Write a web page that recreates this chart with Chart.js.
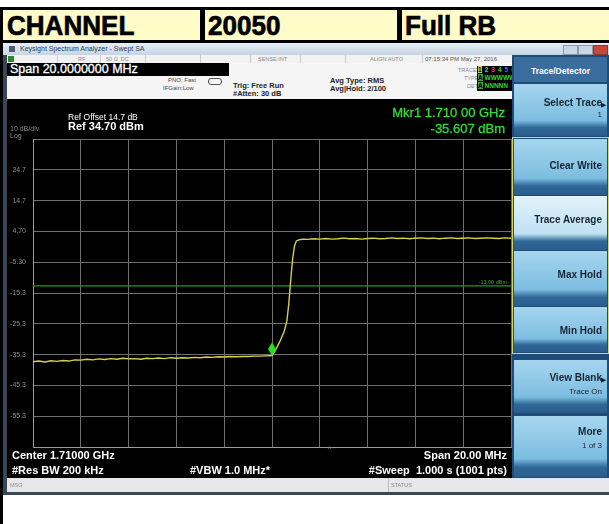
<!DOCTYPE html>
<html>
<head>
<meta charset="utf-8">
<script src="https://cdn.jsdelivr.net/npm/chart.js@4/dist/chart.umd.min.js"></script>
<style>
html,body{margin:0;padding:0;background:#fff;}
body{width:609px;height:524px;position:relative;overflow:hidden;font-family:"Liberation Sans",Arial,sans-serif;}
.a{position:absolute;white-space:nowrap;}
.hdr{font-weight:bold;font-size:28px;line-height:28px;color:#000;transform:scaleX(0.93);transform-origin:left top;-webkit-text-stroke:0.7px #000;}
.sk{position:absolute;left:514px;width:93px;background:linear-gradient(#a6d6ef,#7cbde0 70%,#2f6797 84%,#2a5d8c);}
.sk.sel{background:linear-gradient(#e2f2fa,#bfe2f3 70%,#2f6797 84%,#2a5d8c);}
.skt{position:absolute;right:5px;font-weight:bold;font-size:10px;color:#172436;text-align:right;}
.sks{position:absolute;right:5px;font-size:8px;color:#172436;text-align:right;}
.tiny{font-size:5.5px;color:#8a8a8a;}
.wt{color:#fff;}
</style>
</head>
<body>
<!-- spreadsheet header row -->
<div class="a" style="left:0;top:7px;width:609px;height:3px;background:#000"></div>
<div class="a" style="left:0;top:7px;width:3px;height:517px;background:#000"></div>
<div class="a" style="left:3px;top:10px;width:606px;height:30px;background:#fffcc8"></div>
<div class="a" style="left:200px;top:10px;width:5px;height:30px;background:#000"></div>
<div class="a" style="left:397px;top:10px;width:5px;height:30px;background:#000"></div>
<div class="a" style="left:0;top:40px;width:609px;height:3px;background:#000"></div>
<div class="a hdr" style="left:7px;top:12px">CHANNEL</div>
<div class="a hdr" style="left:208px;top:12px">20050</div>
<div class="a hdr" style="left:405px;top:12px">Full RB</div>

<!-- analyzer window -->
<div class="a" style="left:3px;top:43px;width:606px;height:452px;background:#3a4654"></div>
<div class="a" style="left:3px;top:43px;width:606px;height:12px;background:linear-gradient(#e6eef6,#c6d4e3)"></div>
<div class="a" style="left:9px;top:46px;width:6px;height:6px;background:#4a5a70"></div>
<div class="a" style="left:20px;top:45px;font-size:7px;color:#2c3a55">Keysight Spectrum Analyzer - Swept SA</div>
<div class="a" style="left:563px;top:45px;width:13px;height:8px;background:#c9d6e4;border:1px solid #8a9bb0"></div>
<div class="a" style="left:578px;top:45px;width:13px;height:8px;background:#c9d6e4;border:1px solid #8a9bb0"></div>
<div class="a" style="left:593px;top:45px;width:13px;height:8px;background:#c8483a;border:1px solid #8a3a30"></div>

<!-- status row -->
<div class="a" style="left:7px;top:55px;width:505px;height:8px;background:#f2f2f2"></div>
<div class="a" style="left:8px;top:56px;width:6px;height:6px;background:#2a8a2a"></div>
<div class="a" style="left:57px;top:55px;width:1px;height:8px;background:#ccc"></div>
<div class="a" style="left:100px;top:55px;width:1px;height:8px;background:#ccc"></div>
<div class="a" style="left:145px;top:55px;width:1px;height:8px;background:#ccc"></div>
<div class="a" style="left:200px;top:55px;width:1px;height:8px;background:#ccc"></div>
<div class="a" style="left:250px;top:55px;width:1px;height:8px;background:#ccc"></div>
<div class="a" style="left:300px;top:55px;width:1px;height:8px;background:#ccc"></div>
<div class="a" style="left:345px;top:55px;width:1px;height:8px;background:#ccc"></div>
<div class="a" style="left:422px;top:55px;width:1px;height:8px;background:#ccc"></div>
<div class="a tiny" style="left:78px;top:56px">RF</div>
<div class="a tiny" style="left:106px;top:56px">50 Ω&nbsp;&nbsp;DC</div>
<div class="a tiny" style="left:258px;top:56px">SENSE:INT</div>
<div class="a tiny" style="left:370px;top:56px">ALIGN AUTO</div>
<div class="a" style="left:425px;top:55.5px;font-size:6px;color:#555">07:15:34 PM May 27, 2016</div>

<!-- info panel -->
<div class="a" style="left:7px;top:63px;width:505px;height:36px;background:#f5f5f5"></div>
<div class="a" style="left:7px;top:63px;width:222px;height:13px;background:#000"></div>
<div class="a wt" style="left:10px;top:63px;font-size:12.5px;line-height:13px;-webkit-text-stroke:0.3px #fff">Span 20.0000000 MHz</div>
<div class="a" style="left:168px;top:77px;font-size:6px;color:#444">PNO: Fast</div>
<div class="a" style="left:163px;top:85px;font-size:6px;color:#444">IFGain:Low</div>
<div class="a" style="left:208px;top:78px;width:12px;height:5px;border:1px solid #555;border-radius:3px"></div>
<div class="a" style="left:233px;top:81px;font-size:7.5px;font-weight:bold;color:#222">Trig: Free Run</div>
<div class="a" style="left:233px;top:89px;font-size:7.5px;font-weight:bold;color:#222">#Atten: 30 dB</div>
<div class="a" style="left:330px;top:76px;font-size:7.5px;font-weight:bold;color:#222">Avg Type: RMS</div>
<div class="a" style="left:330px;top:84px;font-size:7.5px;font-weight:bold;color:#222">Avg|Hold: 2/100</div>
<div class="a tiny" style="left:458px;top:67px">TRACE</div>
<div class="a tiny" style="left:464px;top:75px">TYPE</div>
<div class="a tiny" style="left:467px;top:83px">DET</div>
<div class="a" style="left:477px;top:66px;width:35px;height:25px;background:#000"></div>
<div class="a" style="left:478px;top:66px;font-size:6.5px;font-weight:bold;letter-spacing:0.6px"><span style="background:#c8d040;color:#000">1</span> <span style="color:#2ad0d0">2</span> <span style="color:#d040d0">3</span> <span style="color:#40d040">4</span> <span style="color:#6060ff">5</span> <span style="color:#a050ff">6</span></div>
<div class="a" style="left:478px;top:74px;font-size:6.5px;font-weight:bold;color:#3fd03f"><span style="background:#3fa03f;color:#000">A</span>&nbsp;WWWWW</div>
<div class="a" style="left:478px;top:82px;font-size:6.5px;font-weight:bold;color:#3fd03f"><span style="background:#3fa03f;color:#000">A</span>&nbsp;NNNNN</div>

<!-- black display -->
<div class="a" style="left:7px;top:99px;width:505px;height:379px;background:#000"></div>
<div class="a" style="left:7px;top:99px;width:505px;height:379px"><canvas id="c" width="505" height="379"></canvas></div>
<div class="a wt" style="left:68px;top:112px;font-size:8.5px">Ref Offset 14.7 dB</div>
<div class="a wt" style="left:68px;top:120px;font-size:11px;font-weight:bold">Ref 34.70 dBm</div>
<div class="a" style="left:10px;top:125px;font-size:7px;color:#8a8a8a">10 dB/div</div>
<div class="a" style="left:10px;top:132px;font-size:7px;color:#8a8a8a">Log</div>
<div class="a" style="right:104px;top:105px;font-size:13px;color:#33dd33;-webkit-text-stroke:0.3px #33dd33">Mkr1 1.710 00 GHz</div>
<div class="a" style="right:104px;top:121px;font-size:13px;color:#33dd33;-webkit-text-stroke:0.3px #33dd33">-35.607 dBm</div>
<div class="a wt" style="left:12px;top:449px;font-size:11px;font-weight:bold">Center 1.71000 GHz</div>
<div class="a wt" style="left:12px;top:464px;font-size:11px;font-weight:bold">#Res BW 200 kHz</div>
<div class="a wt" style="left:190px;top:464px;font-size:11px;font-weight:bold">#VBW 1.0 MHz*</div>
<div class="a wt" style="right:102px;top:449px;font-size:11px;font-weight:bold">Span 20.00 MHz</div>
<div class="a wt" style="right:102px;top:464px;font-size:11px;font-weight:bold">#Sweep&nbsp;&nbsp;1.000 s (1001 pts)</div>
<div class="a" style="left:328px;top:445px;font-size:7px;color:#3fae3f">^</div>

<!-- softkey panel -->
<div class="a" style="left:512px;top:55px;width:97px;height:423px;background:#1f4b75"></div>
<div class="a" style="left:514px;top:57px;width:93px;height:25px;background:#3a6c9d"></div>
<div class="a wt" style="left:514px;top:66px;width:93px;text-align:center;font-size:8.5px;font-weight:bold">Trace/Detector</div>
<div class="sk" style="top:84px;height:52px"><div class="skt" style="top:13px">Select Trace</div><div class="a" style="right:1px;top:17px;font-size:7px;color:#172436">&#9654;</div><div class="sks" style="top:26px">1</div></div>
<div class="a" style="left:512px;top:137px;width:95px;height:215px;border:1px solid #d8d860"></div>
<div class="sk" style="top:139px;height:56px"><div class="skt" style="top:21px">Clear Write</div></div>
<div class="sk sel" style="top:196px;height:54px"><div class="skt" style="top:18px">Trace Average</div></div>
<div class="sk" style="top:251px;height:55px"><div class="skt" style="top:18px">Max Hold</div></div>
<div class="sk" style="top:307px;height:45px"><div class="skt" style="top:18px">Min Hold</div></div>
<div class="sk" style="top:360px;height:53px"><div class="skt" style="top:12px">View Blank</div><div class="a" style="right:1px;top:16px;font-size:7px;color:#172436">&#9654;</div><div class="sks" style="top:27px">Trace On</div></div>
<div class="sk" style="top:416px;height:61px"><div class="skt" style="top:10px">More</div><div class="sks" style="top:25px">1 of 3</div></div>

<!-- bottom status bar -->
<div class="a" style="left:7px;top:478px;width:602px;height:14px;background:#e7e7eb"></div>
<div class="a" style="left:388px;top:478px;width:1px;height:14px;background:#bbb"></div>
<div class="a tiny" style="left:10px;top:482px">MSG</div>
<div class="a tiny" style="left:391px;top:482px">STATUS</div>

<script>
// ---- data ----
const traceFreqMHz = [1700.00,1700.25,1700.50,1700.75,1701.00,1701.25,1701.50,1701.75,1702.00,1702.25,1702.50,1702.75,1703.00,1703.25,1703.50,1703.75,1704.00,1704.25,1704.50,1704.75,1705.00,1705.25,1705.50,1705.75,1706.00,1706.25,1706.50,1706.75,1707.00,1707.25,1707.50,1707.75,1708.00,1708.25,1708.50,1708.75,1709.00,1709.25,1709.50,1709.75,1710.00,
 1710.15,1710.33,1710.50,1710.62,1710.70,1710.78,1710.86,1710.94,1711.02,1711.15,1711.30,
 1711.50,1711.75,1712.00,1712.25,1712.50,1712.75,1713.00,1713.25,1713.50,1713.75,1714.00,1714.25,1714.50,1714.75,1715.00,1715.25,1715.50,1715.75,1716.00,1716.25,1716.50,1716.75,1717.00,1717.25,1717.50,1717.75,1718.00,1718.25,1718.50,1718.75,1719.00,1719.25,1719.50,1719.75,1720.00];
const traceLevelDbm = [-37.6,-37.4,-37.7,-37.3,-37.5,-37.2,-37.4,-37.0,-37.1,-36.8,-37.0,-36.7,-36.9,-36.6,-36.8,-36.5,-36.7,-36.6,-36.8,-36.5,-36.6,-36.4,-36.6,-36.3,-36.5,-36.3,-36.4,-36.2,-36.3,-36.1,-36.2,-36.0,-36.1,-35.9,-36.0,-35.9,-35.9,-35.8,-35.8,-35.7,-35.6,
 -33.8,-31.0,-28.0,-24.5,-19.0,-11.5,-4.5,0.0,1.6,2.0,2.2,
 2.1,2.3,2.2,2.4,2.2,2.3,2.5,2.3,2.4,2.2,2.4,2.5,2.3,2.4,2.6,2.4,2.5,2.3,2.5,2.6,2.4,2.5,2.3,2.5,2.6,2.4,2.5,2.6,2.4,2.5,2.6,2.5,2.4,2.6,2.5];
const limitFreqMHz = [1700, 1720];
const limitLevelDbm = [-13, -13];
const limitLabel = '-13.00 dBm';
const markerFreqMHz = 1710.0;
const markerLevelDbm = -35.607;
const xGridMHz = [1700,1702,1704,1706,1708,1710,1712,1714,1716,1718,1720];
const yTickValues = [34.7,24.7,14.7,4.7,-5.3,-15.3,-25.3,-35.3,-45.3,-55.3,-65.3];
const yTickLabels = ['','24.7','14.7','4.70','-5.30','-15.3','-25.3','-35.3','-45.3','-55.3',''];

const toXY = (xs, ys) => xs.map((x, i) => ({x: x, y: ys[i]}));

const overlay = {
  id: 'overlay',
  afterDatasetsDraw(chart) {
    const ctx = chart.ctx, xs = chart.scales.x, ys = chart.scales.y;
    ctx.save();
    ctx.font = '5.5px "Liberation Sans", Arial';
    ctx.fillStyle = '#2fae2f';
    ctx.textAlign = 'right';
    ctx.textBaseline = 'bottom';
    ctx.fillText(limitLabel, chart.chartArea.right - 4, ys.getPixelForValue(limitLevelDbm[0]) - 1);
    const px = xs.getPixelForValue(markerFreqMHz), py = ys.getPixelForValue(markerLevelDbm);
    ctx.fillStyle = '#22e022';
    ctx.beginPath();
    ctx.moveTo(px, py);
    ctx.lineTo(px - 4, py - 6.5);
    ctx.lineTo(px, py - 13);
    ctx.lineTo(px + 4, py - 6.5);
    ctx.closePath();
    ctx.fill();
    ctx.restore();
  }
};

new Chart(document.getElementById('c'), {
  type: 'scatter',
  data: {
    datasets: [
      {data: toXY(traceFreqMHz, traceLevelDbm), showLine: true, borderColor: '#d6d04a', borderWidth: 1.4, pointRadius: 0, tension: 0},
      {data: toXY(limitFreqMHz, limitLevelDbm), showLine: true, borderColor: '#1f9c1f', borderWidth: 1.3, pointRadius: 0}
    ]
  },
  plugins: [overlay],
  options: {
    responsive: false,
    animation: false,
    events: [],
    layout: {padding: {left: 0, right: 1, top: 40, bottom: 31}},
    plugins: {legend: {display: false}, tooltip: {enabled: false}},
    scales: {
      x: {
        type: 'linear', min: 1700, max: 1720,
        afterBuildTicks: s => { s.ticks = xGridMHz.map(v => ({value: v})); },
        afterFit: s => { s.height = 0; },
        ticks: {display: false},
        grid: {color: '#6f6f6f', lineWidth: 1, drawTicks: false},
        border: {color: '#9a9a9a', width: 1}
      },
      y: {
        type: 'linear', min: -65.3, max: 34.7,
        afterBuildTicks: s => { s.ticks = yTickValues.map(v => ({value: v})); },
        afterFit: s => { s.width = 26; },
        ticks: {
          color: '#8c8c8c', padding: 7,
          font: {family: '"Liberation Sans", Arial', size: 7},
          callback: (v, i) => yTickLabels[i]
        },
        grid: {color: '#6f6f6f', lineWidth: 1, drawTicks: false},
        border: {color: '#9a9a9a', width: 1}
      }
    }
  }
});
</script>
</body>
</html>
